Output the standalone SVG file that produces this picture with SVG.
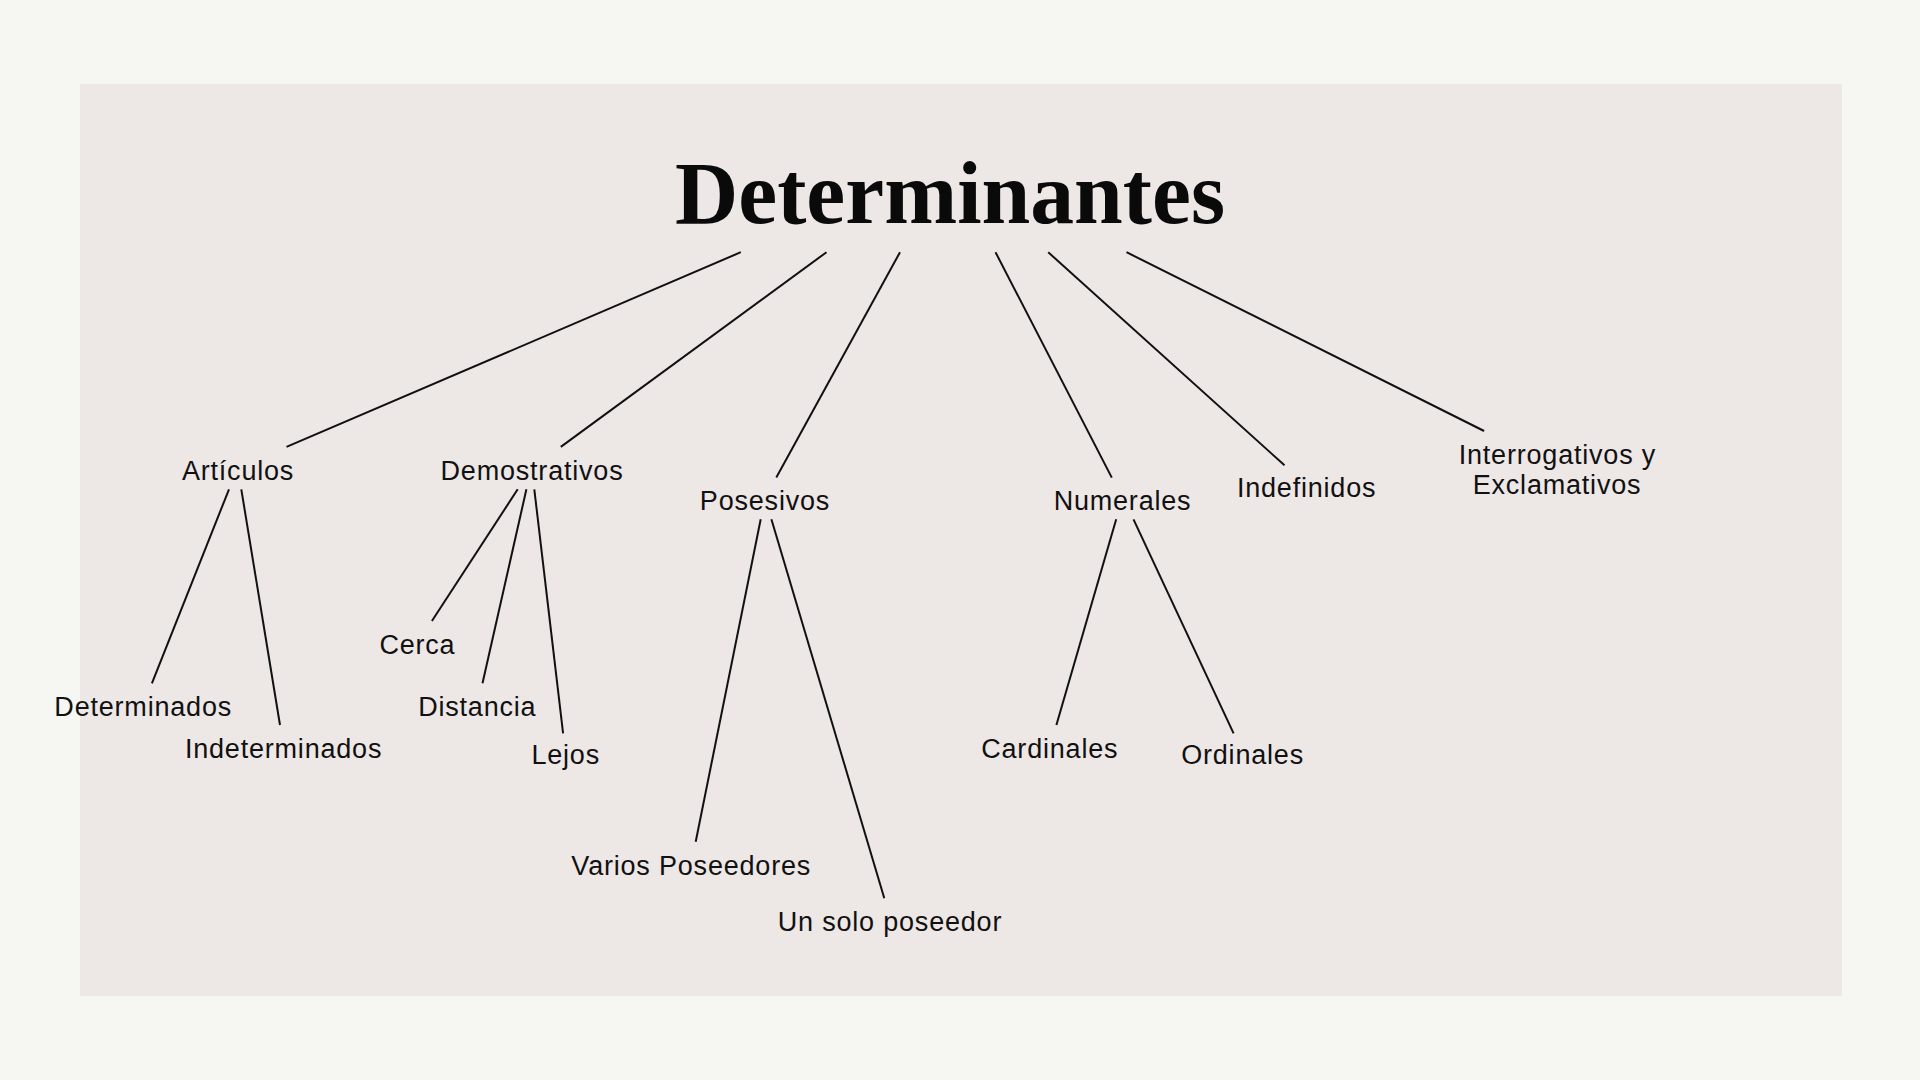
<svg xmlns="http://www.w3.org/2000/svg" width="1920" height="1080" viewBox="0 0 1920 1080">
<style>
.lbl{font-family:"Liberation Sans",Arial,sans-serif;font-size:27px;letter-spacing:0.8px;fill:#111;text-anchor:middle}
.ttl{font-family:"Liberation Serif","Times New Roman",serif;font-weight:bold;font-size:89px;fill:#0a0a0a;text-anchor:middle}
.con line{stroke:#111;stroke-width:2;stroke-linecap:butt}
</style>
<rect x="0" y="0" width="1920" height="1080" fill="#f6f6f2"/>
<rect x="80" y="84" width="1762" height="912" fill="#ede7e6"/>
<g id="connectors" class="con">
<line x1="740.8" y1="252.2" x2="286.5" y2="446.9"/>
<line x1="826.5" y1="252.2" x2="560.8" y2="446.9"/>
<line x1="900" y1="252.2" x2="776.3" y2="477.6"/>
<line x1="995.5" y1="252.2" x2="1111.8" y2="477.6"/>
<line x1="1048.2" y1="252.2" x2="1284.5" y2="465.3"/>
<line x1="1126.5" y1="252.2" x2="1484.1" y2="431"/>
<line x1="229" y1="489.3" x2="151.9" y2="683.3"/>
<line x1="241.3" y1="489.3" x2="280" y2="725"/>
<line x1="517.7" y1="489.3" x2="431.9" y2="621"/>
<line x1="526.4" y1="489.3" x2="482.5" y2="683.3"/>
<line x1="534.3" y1="489.3" x2="563.1" y2="733.3"/>
<line x1="760.7" y1="519.3" x2="695.7" y2="841.7"/>
<line x1="771.4" y1="519.3" x2="884.3" y2="898.3"/>
<line x1="1116.2" y1="519.3" x2="1056.4" y2="725"/>
<line x1="1133.5" y1="519.3" x2="1233.6" y2="733.3"/>
</g>
<g id="title"><text class="ttl" x="950" y="223" textLength="550" lengthAdjust="spacingAndGlyphs">Determinantes</text></g>
<g id="articulos"><text class="lbl" x="238" y="480">Artículos</text></g>
<g id="demostrativos"><text class="lbl" x="532" y="480">Demostrativos</text></g>
<g id="posesivos"><text class="lbl" x="765" y="510">Posesivos</text></g>
<g id="numerales"><text class="lbl" x="1122.5" y="509.5">Numerales</text></g>
<g id="indefinidos"><text class="lbl" x="1306.6" y="497">Indefinidos</text></g>
<g id="interrogativos"><text class="lbl" x="1557.4" y="463.5">Interrogativos y</text><text class="lbl" x="1557" y="494">Exclamativos</text></g>
<g id="determinados"><text class="lbl" x="143.2" y="716">Determinados</text></g>
<g id="indeterminados"><text class="lbl" x="283.6" y="757.7">Indeterminados</text></g>
<g id="cerca"><text class="lbl" x="417.4" y="654.3">Cerca</text></g>
<g id="distancia"><text class="lbl" x="477.3" y="716">Distancia</text></g>
<g id="lejos"><text class="lbl" x="565.7" y="764.3">Lejos</text></g>
<g id="varios"><text class="lbl" x="691.2" y="875">Varios Poseedores</text></g>
<g id="unsolo"><text class="lbl" x="890" y="931">Un solo poseedor</text></g>
<g id="cardinales"><text class="lbl" x="1049.8" y="757.7">Cardinales</text></g>
<g id="ordinales"><text class="lbl" x="1242.6" y="764.3">Ordinales</text></g>
</svg>
